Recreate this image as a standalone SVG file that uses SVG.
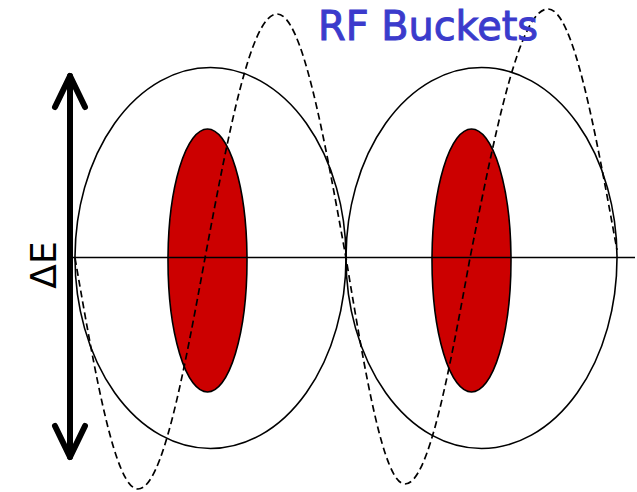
<svg xmlns="http://www.w3.org/2000/svg" width="637" height="492" viewBox="0 0 637 492">
  <style>
    .bucket { fill: none; stroke: #000; stroke-width: 1.6; }
    .bunch { fill: #cc0000; stroke: #000; stroke-width: 1.6; }
    .axis { stroke: #000; stroke-width: 1.6; fill: none; }
    .rf { fill: none; stroke: #000; stroke-width: 1.7; stroke-dasharray: 7 4; }
    .arrow { fill: none; stroke: #000; stroke-width: 6; stroke-linecap: round; stroke-linejoin: round; }
    .title { font-family: "DejaVu Sans", "Liberation Sans", sans-serif; font-size: 40px; fill: #3b3bcc; stroke: #3b3bcc; stroke-width: 1; }
    .label { font-family: "DejaVu Sans", "Liberation Sans", sans-serif; font-size: 36px; fill: #000; }
  </style>
  <rect width="637" height="492" fill="#fff"/>
  <g id="bucket-left">
    <ellipse class="bucket" cx="210.5" cy="258" rx="135.5" ry="190.5"/>
  </g>
  <g id="bucket-right">
    <ellipse class="bucket" cx="481.5" cy="258" rx="135.5" ry="190.5"/>
  </g>
  <g id="bunch-left">
    <ellipse class="bunch" cx="207.5" cy="260.5" rx="39.5" ry="131.5"/>
  </g>
  <g id="bunch-right">
    <ellipse class="bunch" cx="471.5" cy="260.5" rx="39.5" ry="131.5"/>
  </g>
  <g id="axis">
    <line class="axis" x1="73" y1="257.5" x2="635" y2="257.5"/>
  </g>
  <g id="rf-wave">
    <path class="rf" d="M75,258 C95.5,376.3 115.2,489 138,489 C162.2,489 183.2,376.3 205,258 C228.5,133 250.9,14 277,14 C302,14 323.5,133 346,258 C365.2,373.8 383.6,484 405,484 C428.5,484 448.8,373.8 470,258 C495.4,130.4 519.8,9 548,9 C573.3,9 595.2,130.4 617,250"/>
  </g>
  <g id="connectors">
    <g id="delta-e-arrow">
      <line class="arrow" x1="70" y1="76" x2="70" y2="457"/>
      <polyline class="arrow" points="55,107 70,76 85,107"/>
      <polyline class="arrow" points="55,426 70,457 85,426"/>
    </g>
  </g>
  <g id="delta-e-label">
    <text class="label" transform="translate(56,265) rotate(-90)" text-anchor="middle">ΔE</text>
  </g>
  <g id="title">
    <text class="title" x="318" y="40" textLength="220" lengthAdjust="spacingAndGlyphs">RF Buckets</text>
  </g>
</svg>
